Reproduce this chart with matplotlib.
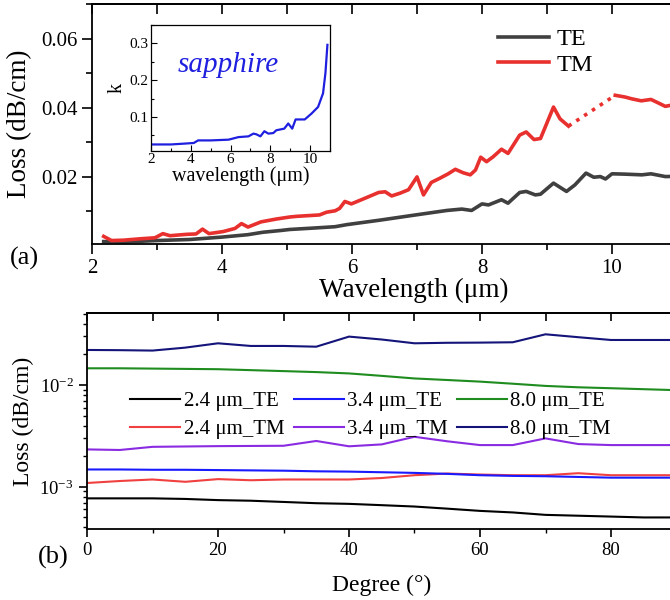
import matplotlib.pyplot as plt
from matplotlib.ticker import MultipleLocator, LogLocator, NullFormatter

plt.rcParams['font.family'] = ['Liberation Serif', 'DejaVu Serif']
plt.rcParams['mathtext.fontset'] = 'stix'
plt.rcParams['axes.linewidth'] = 1.3

# (a) propagation loss vs wavelength
te_wl = [2.18, 2.5, 3.0, 3.5, 4.0, 4.4, 4.63, 4.9, 5.04, 5.4, 5.74, 5.92, 6.43, 6.94,
         7.46, 7.69, 7.84, 8.0, 8.1, 8.3, 8.4, 8.58, 8.68, 8.82, 8.9, 9.1, 9.3, 9.43,
         9.6, 9.72, 9.82, 9.9, 10.0, 10.2, 10.46, 10.6, 10.82, 11.1]
te_loss = [0.0013, 0.0012, 0.0016, 0.0019, 0.0026, 0.0033, 0.0040, 0.0045, 0.0048, 0.0052,
           0.0056, 0.0062, 0.0075, 0.0089, 0.0103, 0.0107, 0.0103, 0.0122, 0.0119, 0.0134,
           0.0124, 0.0155, 0.0158, 0.0148, 0.0150, 0.0182, 0.0158, 0.0177, 0.0211, 0.0199,
           0.0201, 0.0194, 0.0209, 0.0208, 0.0206, 0.0209, 0.0201, 0.0202]

tm_wl = [2.18, 2.3, 2.48, 2.74, 2.97, 3.09, 3.2, 3.46, 3.6, 3.7, 3.8, 4.02, 4.2, 4.3, 4.4,
         4.6, 4.83, 5.04, 5.15, 5.5, 5.61, 5.74, 5.81, 5.89, 5.99, 6.17, 6.41, 6.51, 6.61,
         6.74, 6.87, 7.0, 7.1, 7.22, 7.35, 7.48, 7.59, 7.71, 7.82, 7.9, 7.98, 8.07, 8.17,
         8.3, 8.4, 8.58, 8.68, 8.8, 8.9, 9.1, 9.2, 9.33]
tm_loss = [0.0028, 0.0016, 0.0017, 0.0021, 0.0024, 0.0036, 0.0030, 0.0034, 0.0035, 0.0049,
           0.0036, 0.0042, 0.0051, 0.0065, 0.0055, 0.0070, 0.0078, 0.0084, 0.0086, 0.0090,
           0.0098, 0.0102, 0.0109, 0.0129, 0.0122, 0.0136, 0.0155, 0.0157, 0.0145, 0.0153,
           0.0163, 0.0200, 0.0148, 0.0184, 0.0196, 0.0209, 0.0222, 0.0212, 0.0206, 0.0220,
           0.0257, 0.0244, 0.0258, 0.0280, 0.0268, 0.0321, 0.0330, 0.0308, 0.0311, 0.0402,
           0.0368, 0.0347]
tm_gap_wl = [9.33, 10.05]
tm_gap_loss = [0.0347, 0.0436]
tm_wl2 = [10.05, 10.2, 10.3, 10.45, 10.6, 10.7, 10.82, 10.9, 11.1]
tm_loss2 = [0.0436, 0.0431, 0.0426, 0.0420, 0.0424, 0.0415, 0.0404, 0.0407, 0.0405]

# sapphire extinction coefficient
k_wl = [2.0, 3.0, 3.6, 4.15, 4.37, 5.0, 5.9, 6.4, 6.9, 7.15, 7.3, 7.5, 7.7, 7.9, 8.15,
        8.3, 8.7, 8.9, 9.1, 9.27, 9.73, 10.07, 10.4, 10.65, 10.77, 10.87]
k_val = [0.025, 0.025, 0.027, 0.029, 0.036, 0.036, 0.038, 0.045, 0.047, 0.0545, 0.0526,
         0.047, 0.061, 0.0545, 0.056, 0.0636, 0.068, 0.082, 0.068, 0.093, 0.093, 0.109,
         0.127, 0.164, 0.219, 0.296]

# (b) loss vs rotation angle
degree = [0, 5, 10, 15, 20, 25, 30, 35, 40, 45, 50, 55, 60, 65, 70, 75, 80, 85, 90]
te_24 = [0.00077, 0.00077, 0.00077, 0.00076, 0.00074, 0.00073, 0.00071, 0.00069, 0.00068,
         0.00066, 0.00064, 0.00061, 0.00058, 0.00056, 0.00053, 0.00052, 0.00051, 0.00050, 0.00050]
tm_24 = [0.00109, 0.00114, 0.00118, 0.00112, 0.00119, 0.00116, 0.00118, 0.00118, 0.00118,
         0.00122, 0.00130, 0.00135, 0.00132, 0.00130, 0.00130, 0.00136, 0.00130, 0.00130, 0.00130]
te_34 = [0.00148, 0.00148, 0.00147, 0.00147, 0.00146, 0.00145, 0.00144, 0.00142, 0.00141,
         0.00139, 0.00137, 0.00134, 0.00130, 0.00128, 0.00127, 0.00125, 0.00123, 0.00123, 0.00123]
tm_34 = [0.00233, 0.00230, 0.00247, 0.00249, 0.00251, 0.00252, 0.00253, 0.00282, 0.00250,
         0.00261, 0.00310, 0.00280, 0.00257, 0.00257, 0.00299, 0.00263, 0.00257, 0.00257, 0.00257]
te_80 = [0.0146, 0.0146, 0.0145, 0.0144, 0.0143, 0.0140, 0.0137, 0.0134, 0.0130, 0.0123,
         0.0116, 0.0112, 0.0108, 0.0103, 0.0098, 0.0095, 0.0093, 0.0091, 0.0089]
tm_80 = [0.0221, 0.0220, 0.0218, 0.0233, 0.0257, 0.0242, 0.0242, 0.0238, 0.0299, 0.0280,
         0.0257, 0.0260, 0.0261, 0.0263, 0.0315, 0.0295, 0.0277, 0.0277, 0.0277]

fig = plt.figure(figsize=(6.7, 6.0), dpi=100)

# ---- panel (a) ----
ax1 = fig.add_axes([92 / 670, 356 / 600, 643.5 / 670, 240 / 600])
ax1.plot(te_wl, te_loss, color='#404040', lw=2.6, label='TE')
ax1.plot(tm_wl, tm_loss, color='#e8302e', lw=2.6, label='TM')
ax1.plot(tm_gap_wl, tm_gap_loss, color='#e8302e', lw=2.6, linestyle=(0, (1, 1.6)))
ax1.plot(tm_wl2, tm_loss2, color='#e8302e', lw=2.6)
ax1.set_xlim(2, 11.9)
ax1.set_ylim(0.0006, 0.07)
ax1.xaxis.set_major_locator(MultipleLocator(2))
ax1.xaxis.set_minor_locator(MultipleLocator(1))
ax1.yaxis.set_minor_locator(MultipleLocator(0.01))
ax1.set_yticks([0.02, 0.04, 0.06])
ax1.set_yticklabels(['0.02', '0.04', '0.06'])
ax1.tick_params(which='both', direction='out', labelsize=15, top=False)
ax1.tick_params(which='major', length=7, width=1.2)
ax1.tick_params(which='minor', length=4, width=1.2)
ax1t = ax1.secondary_xaxis('top')
ax1t.set_xticks(range(2, 12))
ax1t.tick_params(direction='in', length=7, width=1.2, labeltop=False)
ax1.set_xlabel('Wavelength (μm)', fontsize=19.5, labelpad=0)
ax1.set_ylabel('Loss (dB/cm)', fontsize=19.5, labelpad=6)
ax1.legend(loc='upper left', bbox_to_anchor=(0.612, 0.95), frameon=False, fontsize=17.5,
           handlelength=2.1, handletextpad=0.3, labelspacing=0.15, borderpad=0)
fig.text(10 / 670, 1 - 258 / 600, '(a)', fontsize=19, va='center', ha='left')

# inset: sapphire k
axi = fig.add_axes([151 / 670, 1 - 150.7 / 600, 179 / 670, 125.7 / 600])
axi.plot(k_wl, k_val, color='#1f1fe0', lw=1.6)
axi.set_xlim(2, 11)
axi.set_ylim(0.008, 0.35)
axi.xaxis.set_major_locator(MultipleLocator(2))
axi.xaxis.set_minor_locator(MultipleLocator(1))
axi.yaxis.set_major_locator(MultipleLocator(0.1))
axi.yaxis.set_minor_locator(MultipleLocator(0.05))
axi.tick_params(which='both', direction='in', labelsize=11, pad=2, width=0.8)
axi.tick_params(which='major', length=4)
axi.tick_params(which='minor', length=2)
for s in axi.spines.values():
    s.set_linewidth(0.9)
axi.set_xlabel('wavelength (μm)', fontsize=14.5, labelpad=0)
axi.set_ylabel('k', fontsize=14.5, labelpad=2)
axi.text(0.43, 0.68, 'sapphire', transform=axi.transAxes, color='#1f1fe0',
         fontsize=21, style='italic', ha='center', va='center')

# ---- panel (b) ----
ax2 = fig.add_axes([87 / 670, 71 / 600, 589.5 / 670, 216 / 600])
ax2.plot(degree, te_24, color='black', lw=1.5, label='2.4 μm_TE')
ax2.plot(degree, tm_24, color='#f04040', lw=1.5, label='2.4 μm_TM')
ax2.plot(degree, te_34, color='#1a1aff', lw=1.5, label='3.4 μm_TE')
ax2.plot(degree, tm_34, color='#8a2be2', lw=1.5, label='3.4 μm_TM')
ax2.plot(degree, te_80, color='#1e8c1e', lw=1.5, label='8.0 μm_TE')
ax2.plot(degree, tm_80, color='#14147a', lw=1.5, label='8.0 μm_TM')
ax2.set_yscale('log')
ax2.set_xlim(0, 90)
ax2.set_ylim(3.85e-4, 5.1e-2)
ax2.xaxis.set_major_locator(MultipleLocator(20))
ax2.xaxis.set_minor_locator(MultipleLocator(10))
ax2.yaxis.set_major_locator(LogLocator(base=10, numticks=10))
ax2.yaxis.set_minor_locator(LogLocator(base=10, subs=range(2, 10), numticks=10))
ax2.yaxis.set_minor_formatter(NullFormatter())
ax2.tick_params(which='both', direction='out', labelsize=13.5, top=False)
ax2.tick_params(which='major', length=6, width=1.2)
ax2.tick_params(which='minor', length=3, width=1.0)
ax2t = ax2.secondary_xaxis('top')
ax2t.set_xticks(range(0, 100, 10))
ax2t.tick_params(direction='in', length=6, width=1.2, labeltop=False)
ax2.set_xlabel('Degree (°)', fontsize=17, labelpad=11)
ax2.set_ylabel('Loss (dB/cm)', fontsize=17, labelpad=4)
ax2.legend(loc='upper left', bbox_to_anchor=(0.056, 0.685), ncol=3, frameon=False,
           fontsize=15, handlelength=2.4, handletextpad=0.15, columnspacing=0.45,
           labelspacing=0.4, borderpad=0)
fig.text(38 / 670, 1 - 557 / 600, '(b)', fontsize=19, va='center', ha='left')

fig.savefig('out.png', dpi=100)
